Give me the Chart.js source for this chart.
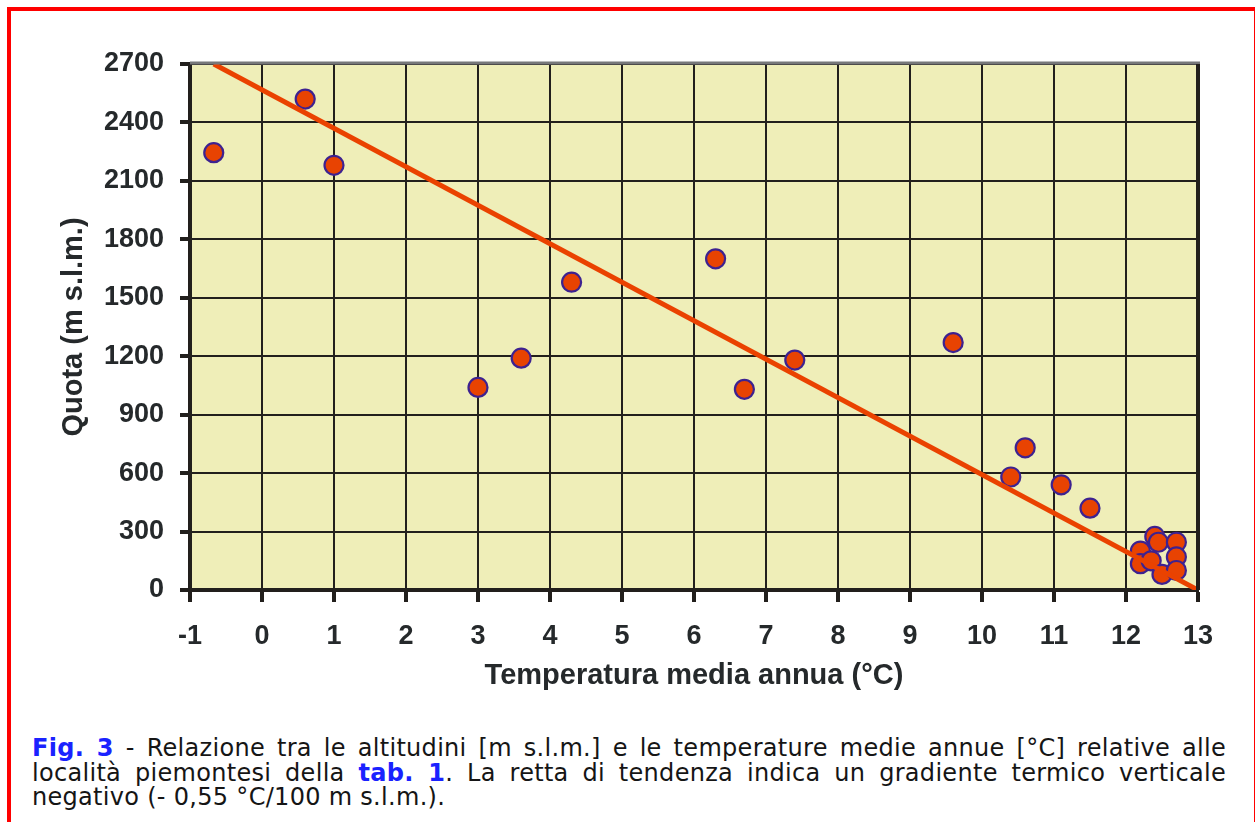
<!DOCTYPE html>
<html>
<head>
<meta charset="utf-8">
<script src="https://cdn.jsdelivr.net/npm/chart.js@4"></script>
<style>
  html, body { margin: 0; padding: 0; background: #fff; overflow: hidden; }
  body { width: 1255px; height: 822px; position: relative; }
  #frame { position: absolute; left: 7px; top: 7px; width: 1243px; height: 900px;
           border-left: 4px solid #ff0000; border-top: 4px solid #ff0000; border-right: 2px solid #ff0000; }
  #wrap { position: absolute; left: 0; top: 0; width: 1255px; height: 720px; }
  #caption { position: absolute; left: 32px; top: 736px; width: 1194px;
             font-family: "DejaVu Sans", Verdana, sans-serif; font-size: 24px; letter-spacing: 0.3px;
             line-height: 24.5px; color: #151515; }
  #caption div { text-align: justify; text-align-last: justify; }
  #caption div.last { text-align-last: left; white-space: nowrap; }
  #caption b { color: #1a22ff; }
</style>
</head>
<body>
<div id="frame"></div>
<div id="wrap"><canvas id="grafico" width="1255" height="720"></canvas></div>
<div id="caption">
  <div><b>Fig. 3</b> - Relazione tra le altitudini [m s.l.m.] e le temperature medie annue [°C] relative alle</div>
  <div>località piemontesi della <b>tab. 1</b>. La retta di tendenza indica un gradiente termico verticale</div>
  <div class="last">negativo (- 0,55 °C/100 m s.l.m.).</div>
</div>
<script>
// temperature medie annue (°C) e quote (m s.l.m.)
var temperature = [-0.67, 0.6, 1.0, 3.0, 3.6, 4.3, 6.3, 6.7, 7.4, 9.6,
                   10.6, 10.4, 11.1, 11.5,
                   12.4, 12.45, 12.7, 12.7, 12.2, 12.2, 12.35, 12.5, 12.7];
var quote = [2245, 2520, 2180, 1040, 1190, 1580, 1700, 1030, 1180, 1270,
             730, 580, 540, 420,
             275, 245, 245, 170, 200, 135, 150, 80, 100];

// retta di tendenza (estremi)
var trendTemp = [-0.67, 13];
var trendQuota = [2700, 0];

var xTicks = [-1, 0, 1, 2, 3, 4, 5, 6, 7, 8, 9, 10, 11, 12, 13];
var yTicks = [0, 300, 600, 900, 1200, 1500, 1800, 2100, 2400, 2700];

var punti = temperature.map(function (t, i) { return { x: t, y: quote[i] }; });
var retta = trendTemp.map(function (t, i) { return { x: t, y: trendQuota[i] }; });

// sfondo giallo e bordi superiore / destro dell'area del grafico
var areaPlugin = {
    id: 'area',
    beforeDraw: function (chart) {
        var a = chart.chartArea, c = chart.ctx;
        c.save();
        c.fillStyle = '#efeeb8';
        c.fillRect(a.left, a.top, a.right - a.left, a.bottom - a.top);
        c.restore();
    },
    afterDatasetsDraw: function (chart) {
        var a = chart.chartArea, c = chart.ctx;
        c.save();
        c.strokeStyle = '#77787a';
        c.lineWidth = 3;
        c.beginPath(); c.moveTo(a.left, a.top - 1); c.lineTo(a.right + 2, a.top - 1); c.stroke();
        c.strokeStyle = '#221f1c';
        c.lineWidth = 4;
        c.beginPath(); c.moveTo(a.right, a.top); c.lineTo(a.right, a.bottom); c.stroke();
        c.restore();
    }
};

var tickFont = { family: '"Liberation Sans", Arial, sans-serif', size: 27, weight: 'bold' };
var titleFont = { family: '"Liberation Sans", Arial, sans-serif', size: 29, weight: 'bold' };

new Chart(document.getElementById('grafico').getContext('2d'), {
    type: 'scatter',
    data: {
        datasets: [{
            label: 'Quota',
            data: punti,
            pointRadius: 9.5,
            pointHoverRadius: 9.5,
            pointBackgroundColor: '#e84302',
            pointBorderColor: '#3d2290',
            pointBorderWidth: 2.2,
            order: 2
        }, {
            type: 'line',
            label: 'Tendenza',
            data: retta,
            borderColor: '#ea4200',
            borderWidth: 5,
            pointRadius: 0,
            fill: false,
            order: 1
        }]
    },
    plugins: [areaPlugin],
    options: {
        responsive: false,
        animation: false,
        layout: { padding: { top: 64, right: 57, left: 0, bottom: 0 } },
        plugins: { legend: { display: false }, tooltip: { enabled: false } },
        scales: {
            x: {
                type: 'linear',
                min: -1, max: 13,
                afterFit: function (s) { s.height = 130; },
                afterBuildTicks: function (s) { s.ticks = xTicks.map(function (v) { return { value: v }; }); },
                grid: { color: '#221f1c', lineWidth: 2, tickLength: 12, tickWidth: 4, tickColor: '#221f1c' },
                border: { color: '#221f1c', width: 4 },
                ticks: { color: '#25292b', font: tickFont, padding: 18, maxRotation: 0,
                         callback: function (v) { return String(v); } },
                title: { display: true, text: 'Temperatura media annua (°C)', color: '#25292b',
                         font: titleFont, padding: { top: 0, bottom: 27 } }
            },
            y: {
                min: 0, max: 2700,
                afterFit: function (s) { s.width = 190; },
                afterBuildTicks: function (s) { s.ticks = yTicks.map(function (v) { return { value: v }; }); },
                grid: { color: '#221f1c', lineWidth: 2, tickLength: 10, tickWidth: 4, tickColor: '#221f1c' },
                border: { color: '#221f1c', width: 4 },
                ticks: { color: '#25292b', font: tickFont, padding: 16,
                         callback: function (v) { return String(v); } },
                title: { display: true, text: 'Quota (m s.l.m.)', color: '#25292b',
                         font: titleFont, padding: { top: 57, bottom: 0 } }
            }
        }
    }
});
</script>
</body>
</html>
